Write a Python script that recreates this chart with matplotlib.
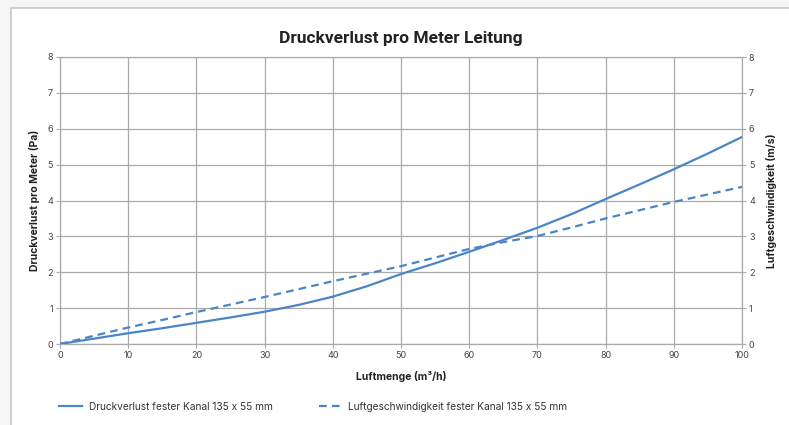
import matplotlib
matplotlib.use("Agg")
import matplotlib.pyplot as plt
from matplotlib.patches import Rectangle

# data
luftmenge = [0, 5, 10, 15, 20, 25, 30, 35, 40, 45, 50, 55, 60, 65, 70, 75, 80, 85, 90, 95, 100]
druckverlust = [0, 0.15, 0.30, 0.44, 0.59, 0.74, 0.90, 1.09, 1.32, 1.61, 1.95, 2.25, 2.57, 2.90,
                3.24, 3.62, 4.04, 4.45, 4.87, 5.31, 5.77]
geschwindigkeit = [0, 0.23, 0.46, 0.67, 0.89, 1.10, 1.31, 1.53, 1.75, 1.96, 2.17, 2.41, 2.65, 2.84,
                   3.01, 3.25, 3.50, 3.73, 3.96, 4.17, 4.38]

label_druck = "Druckverlust fester Kanal 135 x 55 mm"
label_geschw = "Luftgeschwindigkeit fester Kanal 135 x 55 mm"

blue = "#4a86c5"
grid_col = "#aaaaaa"
tick_col = "#444444"

plt.rcParams["font.family"] = ["Inter", "DejaVu Sans"]

W, H = 789, 425
fig = plt.figure(figsize=(W / 100, H / 100), dpi=100)
fig.patch.set_facecolor("#f6f6f6")

# white panel with thin border
fig.patches.append(Rectangle((11 / W, -0.1), 1.1, 1 - 8 / H + 0.1, transform=fig.transFigure,
                             facecolor="white", edgecolor="#c8c8c8", linewidth=1.2, zorder=-5))

ax = fig.add_axes([60 / W, 1 - 344 / H, (742 - 60) / W, (344 - 57) / H])
ax.set_facecolor("white")

ax.plot(luftmenge, druckverlust, color=blue, lw=1.6, label=label_druck, zorder=3)
ax.plot(luftmenge, geschwindigkeit, color=blue, lw=1.6, dashes=(3.5, 2.3), label=label_geschw, zorder=3)

ax.set_xlim(0, 100)
ax.set_ylim(0, 8)
ax.set_xticks(range(0, 101, 10))
ax.set_yticks(range(0, 9))
ax.grid(True, color=grid_col, lw=0.9)
ax.set_axisbelow(True)
for s in ax.spines.values():
    s.set_color(grid_col)
    s.set_linewidth(0.9)
ax.tick_params(colors=grid_col, labelcolor=tick_col, labelsize=6.5, length=3, width=0.8, pad=2)

ax2 = ax.twinx()
ax2.set_ylim(0, 8)
ax2.set_yticks(range(0, 9))
for s in ax2.spines.values():
    s.set_visible(False)
ax2.tick_params(colors=grid_col, labelcolor=tick_col, labelsize=6.5, length=3, width=0.8, pad=2)

ax.set_xlabel("Luftmenge (m³/h)", fontsize=7.5, fontweight="bold", color="#222222", labelpad=8)
ax.set_ylabel("Druckverlust pro Meter (Pa)", fontsize=7.5, fontweight="bold", color="#222222", labelpad=5)
ax2.set_ylabel("Luftgeschwindigkeit (m/s)", fontsize=7.5, fontweight="bold", color="#222222", labelpad=8)

fig.text(401 / W, 1 - 38 / H, "Druckverlust pro Meter Leitung", ha="center", va="center",
         fontsize=12.5, fontweight="bold", color="#222222", family=["Roboto", "DejaVu Sans"])

h, l = ax.get_legend_handles_labels()
fig.legend(h, l, loc="center left", bbox_to_anchor=(50 / W, 1 - 407 / H), ncol=2, frameon=False,
           fontsize=7.3, handlelength=2.3, handletextpad=0.6, columnspacing=4.6, labelcolor="#333333")

fig.savefig("out.png", dpi=100, facecolor=fig.get_facecolor())
